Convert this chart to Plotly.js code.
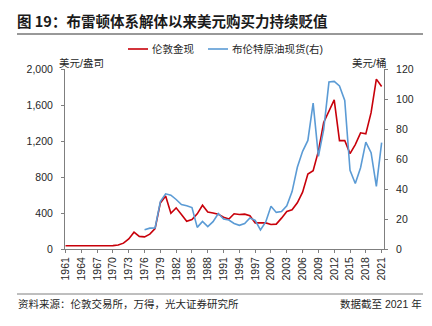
<!DOCTYPE html>
<html><head><meta charset="utf-8">
<script src="https://cdn.plot.ly/plotly-3.0.1.min.js"></script>
<style>html,body{margin:0;padding:0;background:#fff}#chart{width:432px;height:326px}</style>
</head><body><div id="chart"></div>
<script>
const years = [1961,1962,1963,1964,1965,1966,1967,1968,1969,1970,
  1971,1972,1973,1974,1975,1976,1977,1978,1979,1980,
  1981,1982,1983,1984,1985,1986,1987,1988,1989,1990,
  1991,1992,1993,1994,1995,1996,1997,1998,1999,2000,
  2001,2002,2003,2004,2005,2006,2007,2008,2009,2010,
  2011,2012,2013,2014,2015,2016,2017,2018,2019,2020,2021];
const goldPrice = [35.5,35.35,35.5,35.1,35.1,35.2,35.5,41.9,35.2,37.4,
  43.6,64.9,112.3,186.5,140.3,134.5,165,226,512,589.8,
  397.5,456.9,382.4,308.3,327,390.9,486.5,410.2,401,386.2,
  353.2,333,391.8,383.3,387,369.3,290.2,287.5,290.3,272.7,
  276.5,342.8,417.3,435.6,513,632,833.8,869.8,1087.5,1405.5,
  1531,1657.5,1204.5,1206,1060,1160,1291,1279,1514.8,1887.6,1805.9];
const brentPrice = [null,null,null,null,null,null,null,null,null,null,
  null,null,null,null,null,12.8,13.9,14.0,31.6,36.8,
  35.9,33.0,29.6,28.8,27.6,14.4,18.4,14.9,18.2,23.7,
  20.0,19.3,17.0,15.8,17.0,20.7,19.1,12.7,18.0,28.5,
  24.4,25.0,28.8,38.3,54.5,65.1,72.4,97.3,61.7,79.5,
  111.3,111.7,108.7,99.0,52.4,43.7,54.2,71.3,64.2,41.8,70.9];
const xTickVals = [1961,1964,1967,1970,1973,1976,1979,1982,1985,1988,1991,
  1994,1997,2000,2003,2006,2009,2012,2015,2018,2021];
const xTickText = ["1961","1964","1967","1970","1973","1976","1979","1982","1985","1988","1991",
  "1994","1997","2000","2003","2006","2009","2012","2015","2018","2021"];
const goldName = "伦敦金现";
const brentName = "布伦特原油现货(右)";

const L = 65, R = 384, T = 69, B = 249;
const px = x => (x - L) / (R - L);
const py = y => (B - y) / (B - T);
const RED = "#c8000a", BLUE = "#5b9bd5";
const FONT = 'Liberation Sans, "Noto Sans CJK SC", sans-serif';
const AX = "#7f7f7f";

const traces = [
  {x: years, y: goldPrice, name: goldName, type: "scatter", mode: "lines",
   line: {color: RED, width: 1.6}, yaxis: "y"},
  {x: years, y: brentPrice, name: brentName, type: "scatter", mode: "lines",
   line: {color: BLUE, width: 1.6}, yaxis: "y2", connectgaps: false}
];

const layout = {
  width: 432, height: 326,
  margin: {l: L, r: 432 - R, t: T, b: 326 - B, pad: 0},
  paper_bgcolor: "#fff", plot_bgcolor: "#fff",
  font: {family: FONT, size: 10.5, color: "#262626"},
  showlegend: false,
  title: {text: "<b>图 19：布雷顿体系解体以来美元购买力持续贬值</b>",
    font: {family: '"Noto Sans CJK SC", sans-serif', size: 14.5, color: "#1a1a1a"},
    x: 17 / 432, xanchor: "left", xref: "container",
    y: 1 - 21.5 / 326, yanchor: "middle", yref: "container"},
  xaxis: {range: [1960.9, 2021.45], tickmode: "array", tickvals: xTickVals, ticktext: xTickText,
    tickangle: -90, showgrid: false, zeroline: false, showline: true, linecolor: AX, linewidth: 1,
    ticks: "outside", ticklen: 3, tickcolor: AX, tickfont: {size: 10.5, color: "#262626"}},
  yaxis: {range: [0, 2000], dtick: 400, tick0: 0, tickformat: ",d", showgrid: false, zeroline: false,
    showline: true, linecolor: AX, linewidth: 1, ticks: "outside", ticklen: 3, tickcolor: AX,
    tickfont: {size: 10.5, color: "#262626"}, ticklabelstandoff: 6},
  yaxis2: {range: [0, 120], dtick: 20, tick0: 0, overlaying: "y", side: "right", showgrid: false,
    zeroline: false, showline: true, linecolor: AX, linewidth: 1, ticks: "outside", ticklen: 3,
    tickcolor: AX, tickfont: {size: 10.5, color: "#262626"}, ticklabelstandoff: 6},
  shapes: [
    {type: "line", xref: "paper", yref: "paper", x0: px(17), x1: px(423), y0: py(34), y1: py(34),
     line: {color: "#333", width: 1}},
    {type: "line", xref: "paper", yref: "paper", x0: px(17), x1: px(423), y0: py(294), y1: py(294),
     line: {color: "#7f7f7f", width: 1}},
    {type: "line", xref: "paper", yref: "paper", x0: px(128), x1: px(148), y0: py(49), y1: py(49),
     line: {color: RED, width: 1.6}},
    {type: "line", xref: "paper", yref: "paper", x0: px(208), x1: px(228), y0: py(49), y1: py(49),
     line: {color: BLUE, width: 1.6}}
  ],
  annotations: [
    {text: goldName, xref: "paper", yref: "paper", x: px(150), y: py(49), xanchor: "left", yanchor: "middle",
     showarrow: false, font: {size: 10.5, color: "#262626"}},
    {text: brentName, xref: "paper", yref: "paper", x: px(230), y: py(49), xanchor: "left", yanchor: "middle",
     showarrow: false, font: {size: 10.5, color: "#262626"}},
    {text: "美元/盎司", xref: "paper", yref: "paper", x: px(57), y: py(63), xanchor: "left", yanchor: "middle",
     showarrow: false, font: {size: 10.5, color: "#262626"}},
    {text: "美元/桶", xref: "paper", yref: "paper", x: px(388), y: py(63), xanchor: "right", yanchor: "middle",
     showarrow: false, font: {size: 10.5, color: "#262626"}},
    {text: "资料来源：伦敦交易所，万得，光大证券研究所", xref: "paper", yref: "paper", x: px(16), y: py(304),
     xanchor: "left", yanchor: "middle", showarrow: false, font: {size: 10.5, color: "#262626"}},
    {text: "数据截至 2021 年", xref: "paper", yref: "paper", x: px(424), y: py(304),
     xanchor: "right", yanchor: "middle", showarrow: false, font: {size: 10.5, color: "#262626"}}
  ]
};

Plotly.newPlot("chart", traces, layout, {displayModeBar: false, staticPlot: true});
</script></body></html>
